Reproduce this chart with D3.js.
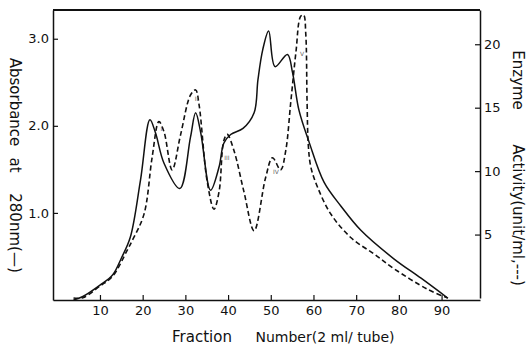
<!DOCTYPE html>
<html>
<head>
<meta charset="utf-8">
<script src="https://cdn.jsdelivr.net/npm/d3@7"></script>
<style>
  body { margin: 0; background: #fff; }
  svg text { font-family: "DejaVu Sans", sans-serif; fill: #111; }
</style>
</head>
<body>
<svg width="531" height="349"></svg>
<script>
// Absorbance at 280 nm (solid line, left axis)
const absFraction = [3.8, 6, 10, 13, 15, 17.1, 19.5, 21.7, 23, 25, 28.7, 31.2, 32.4, 33.6, 35.9, 37.9, 39, 40.6, 43.5, 46.1, 47, 48.1, 49.5, 51, 53.9, 55.1, 56.6, 59, 62.5, 66.4, 71.1, 78.9, 85.2, 91.5];
const absValue    = [0, 0.04, 0.17, 0.29, 0.48, 0.72, 1.38, 2.07, 1.92, 1.57, 1.28, 1.87, 2.15, 1.92, 1.26, 1.53, 1.80, 1.90, 1.97, 2.15, 2.53, 2.87, 3.09, 2.68, 2.82, 2.61, 2.18, 1.81, 1.35, 1.08, 0.80, 0.47, 0.25, 0.02];

// Enzyme activity (dashed line, right axis)
const actFraction = [3.8, 6, 10, 13, 16.4, 17.5, 20.3, 22.2, 23.8, 25, 26.9, 28.9, 31.2, 32.4, 33.2, 35.1, 36.7, 37.9, 39, 39.8, 41.4, 43.7, 46.1, 48.8, 50.4, 52.3, 53.5, 54.7, 55.9, 57, 57.7, 58.2, 58.5, 58.8, 59.4, 61, 64.1, 68.8, 74.3, 78.9, 86.7, 91.4];
const actValue    = [0, 0.02, 0.94, 1.73, 3.78, 4.49, 6.59, 11.05, 13.9, 13.1, 10.1, 12.9, 16.0, 16.4, 15.25, 9.2, 7.0, 8.4, 12.4, 12.9, 11.6, 8.4, 5.3, 9.5, 11.05, 10.1, 11.6, 15.5, 19.4, 22.2, 22.3, 20.8, 15.5, 12.0, 10.3, 8.7, 6.6, 4.75, 3.44, 2.3, 0.69, 0];

// peak labels on the activity curve
const peakNames = ["I", "II", "III", "IV", "V"];
const peakFraction = [24.4, 32.6, 39.7, 51.2, 57.3];
const peakActivity = [13.2, 15.5, 10.9, 9.8, 19.1];

const xTicks = [10, 20, 30, 40, 50, 60, 70, 80, 90];
const leftTicks = [1, 2, 3];
const rightTicks = [5, 10, 15, 20];

const svg = d3.select("svg");

/* scales */
const x = d3.scaleLinear().domain([-1, 99]).range([53, 480]);
const yL = d3.scaleLinear().domain([0, 3.33]).range([300, 10]);
const yR = d3.scaleLinear().domain([0, 22.7]).range([298, 10]);

/* axes, ticks pointing inward */
const gx = svg.append("g").attr("transform", "translate(0,300)")
  .call(d3.axisBottom(x).tickValues(xTicks).tickSizeInner(-5).tickSizeOuter(0).tickPadding(6));
const gl = svg.append("g").attr("transform", "translate(53,0)")
  .call(d3.axisLeft(yL).tickValues(leftTicks).tickFormat(d3.format(".1f")).tickSizeInner(-5).tickSizeOuter(0).tickPadding(4));
const gr = svg.append("g").attr("transform", "translate(480,0)")
  .call(d3.axisRight(yR).tickValues(rightTicks).tickSizeInner(-5).tickSizeOuter(0).tickPadding(4));

[gx, gl, gr].forEach(g => {
  g.select(".domain").attr("stroke", "#111").attr("stroke-width", 1.5);
  g.selectAll(".tick line").attr("stroke", "#111").attr("stroke-width", 1.2);
  g.selectAll(".tick text").attr("font-size", 13).attr("fill", "#111");
});

// top frame
svg.append("line")
  .attr("x1", x(-1)).attr("x2", x(99))
  .attr("y1", yL(3.33)).attr("y2", yL(3.33))
  .attr("stroke", "#111").attr("stroke-width", 2);

/* curves */
const absData = absFraction.map((f, i) => ({ f: f, v: absValue[i] }));
const actData = actFraction.map((f, i) => ({ f: f, v: actValue[i] }));

const absLine = d3.line().x(d => x(d.f)).y(d => yL(d.v)).curve(d3.curveCatmullRom.alpha(0.5));
const actLine = d3.line().x(d => x(d.f)).y(d => yR(d.v)).curve(d3.curveCatmullRom.alpha(0.5));

svg.append("path").datum(absData)
  .attr("fill", "none").attr("stroke", "#111").attr("stroke-width", 1.5)
  .attr("d", absLine);

svg.append("path").datum(actData)
  .attr("fill", "none").attr("stroke", "#111").attr("stroke-width", 1.6)
  .attr("stroke-dasharray", "5,3")
  .attr("d", actLine);

svg.selectAll(".peak")
  .data(peakNames)
  .enter()
  .append("text")
  .attr("class", "peak")
  .attr("x", (d, i) => x(peakFraction[i]))
  .attr("y", (d, i) => yR(peakActivity[i]))
  .attr("text-anchor", "middle")
  .attr("font-size", 6)
  .style("fill", "#666")
  .text(d => d);

/* axis titles */
function vword(txt, cx, cy) {
  svg.append("text")
    .attr("transform", "translate(" + cx + "," + cy + ") rotate(90)")
    .attr("text-anchor", "middle")
    .attr("dominant-baseline", "central")
    .attr("font-size", 15)
    .text(txt);
}
vword("Absorbance", 15, 102);
vword("at", 15, 165);
vword("280nm(\u2014)", 15, 233);
vword("Enzyme", 518, 80);
vword("Activity(unit/ml,---)", 518, 215);

svg.append("text").attr("x", 202).attr("y", 342)
  .attr("text-anchor", "middle").attr("font-size", 15).text("Fraction");
svg.append("text").attr("x", 325).attr("y", 342)
  .attr("text-anchor", "middle").attr("font-size", 14).text("Number(2 ml/ tube)");
</script>
</body>
</html>
